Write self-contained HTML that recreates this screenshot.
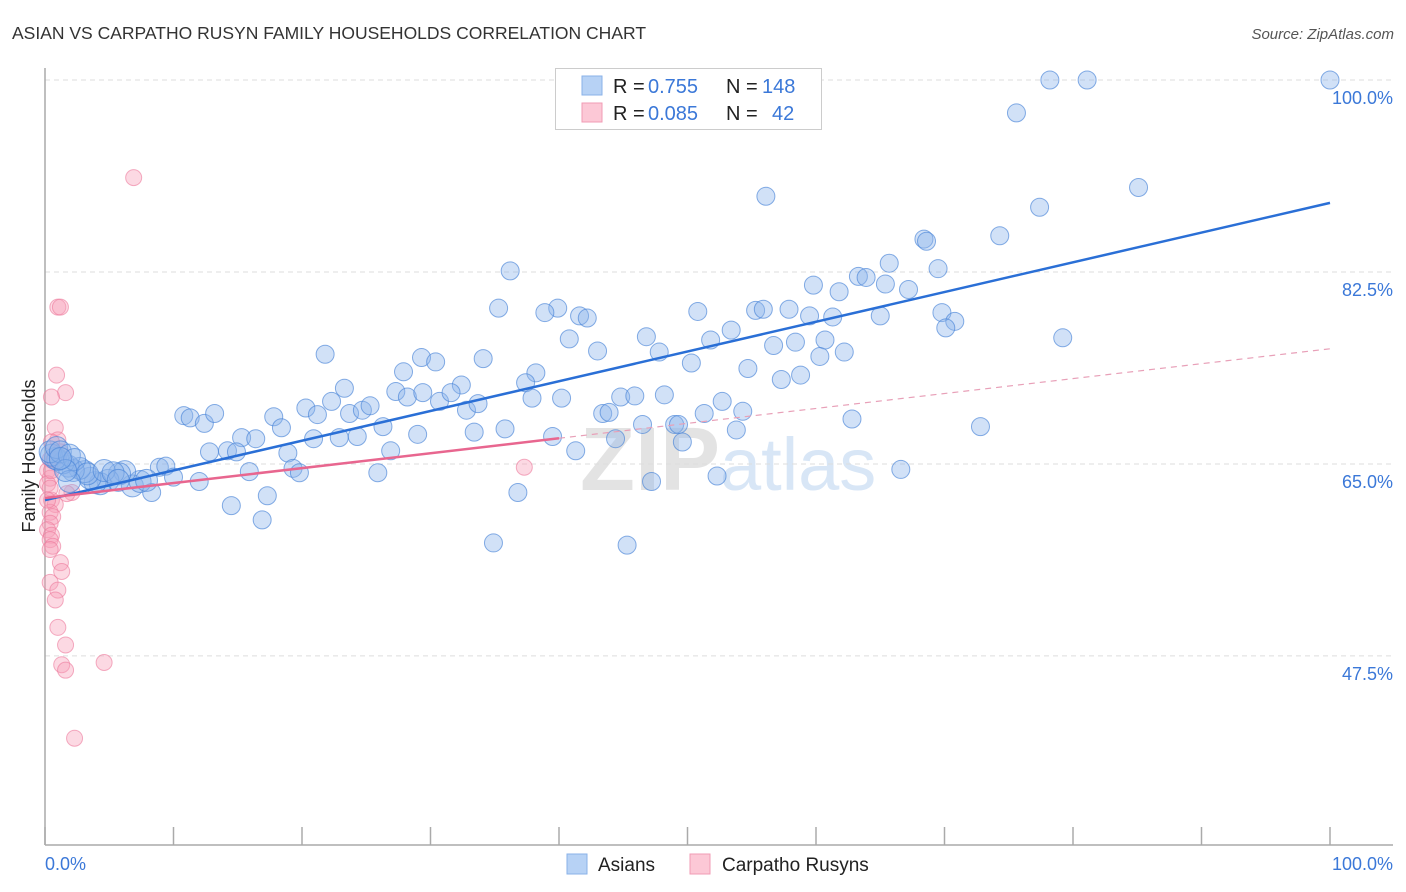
<!DOCTYPE html>
<html><head><meta charset="utf-8"><style>
body{margin:0;background:#fff;font-family:"Liberation Sans",sans-serif;}
svg{display:block}
</style></head><body>
<svg id="chart" width="1406" height="892" xmlns="http://www.w3.org/2000/svg">
<text x="12" y="39" font-size="17.5" fill="#333">ASIAN VS CARPATHO RUSYN FAMILY HOUSEHOLDS CORRELATION CHART</text>
<text x="1394" y="39" font-size="15" font-style="italic" fill="#555" text-anchor="end">Source: ZipAtlas.com</text>
<text x="720" y="490" font-size="90" font-weight="bold" fill="#ddd" text-anchor="end" opacity="0.8">ZIP</text>
<text x="720" y="490" font-size="74" fill="#cfe0f5" opacity="0.8">atlas</text>
<g id="grid"></g>
<g id="axes"></g>
<g id="pinkpts"></g>
<g id="bluepts"></g>
<g id="lines"></g>
<text transform="translate(35,456) rotate(-90)" font-size="18" fill="#222" text-anchor="middle">Family Households</text>
<g>
<rect x="555.5" y="68.5" width="266" height="61" fill="#fff" stroke="#ccc"/>
<rect x="582" y="76" width="20" height="19" fill="#b7d2f5" stroke="#8ab2e8"/>
<rect x="582" y="103" width="20" height="19" fill="#fcc8d6" stroke="#f19bb4"/>
<text x="613" y="93" font-size="20" fill="#222">R =</text>
<text x="648" y="93" font-size="20" fill="#3b78d8">0.755</text>
<text x="726" y="93" font-size="20" fill="#222">N =</text>
<text x="762" y="93" font-size="20" fill="#3b78d8">148</text>
<text x="613" y="120" font-size="20" fill="#222">R =</text>
<text x="648" y="120" font-size="20" fill="#3b78d8">0.085</text>
<text x="726" y="120" font-size="20" fill="#222">N =</text>
<text x="772" y="120" font-size="20" fill="#3b78d8">42</text>
</g>
<g>
<rect x="567" y="854" width="20" height="20" fill="#b7d2f5" stroke="#8ab2e8"/>
<text x="598" y="871" font-size="19" fill="#222">Asians</text>
<rect x="690" y="854" width="20" height="20" fill="#fcc8d6" stroke="#f19bb4"/>
<text x="722" y="871" font-size="19" fill="#222">Carpatho Rusyns</text>
</g>
</svg>
<script>
const xTicks=[0,10,20,30,40,50,60,70,80,90,100];
const yTicks=[47.5,65,82.5,100];
const yTickLabels=["47.5%","65.0%","82.5%","100.0%"];
const xLabels=["0.0%","100.0%"];
const blueX=[78.2,81.1,100,75.6,56.1,85.1,77.4,68.4,68.6,74.3,36.2,65.7,63.3,63.9,69.5,59.8,61.8,65.4,67.2,35.3,39.9,38.9,41.6,42.2,50.8,55.3,55.9,57.9,59.5,61.3,65.0,69.8,70.8,70.1,79.2,40.8,43.0,46.8,47.8,51.8,53.4,56.7,58.4,60.7,60.3,62.2,21.8,29.3,30.4,34.1,27.9,38.2,50.3,54.7,57.3,58.8,23.3,27.3,28.2,32.4,37.4,37.9,30.7,31.6,29.4,22.3,20.3,21.2,23.7,24.7,25.3,32.8,33.7,40.2,43.4,43.9,44.8,45.9,48.2,51.3,52.7,54.3,10.8,11.3,12.4,13.2,17.8,18.4,26.3,29.0,33.4,35.8,46.5,49.0,49.3,53.8,62.8,72.8,15.3,16.4,20.9,22.9,24.3,39.5,44.4,49.6,12.8,14.2,14.9,18.9,26.9,41.3,15.9,19.3,19.8,25.9,8.9,9.4,10.0,12.0,52.3,66.6,47.2,17.3,36.8,8.3,14.5,16.9,34.9,45.3,6.8,7.4,7.9,6.2,5.8,4.9,4.3,3.9,3.5,3.1,2.7,2.2,1.8,1.4,1.0,0.8,0.5,0.4,0.9,1.2,1.9,2.3,3.3,4.6,5.3,5.7,1.9,1.6,1.2];
const blueY=[100,100,100,97.0,89.4,90.2,88.4,85.5,85.3,85.8,82.6,83.3,82.1,82.0,82.8,81.3,80.7,81.4,80.9,79.2,79.2,78.8,78.5,78.3,78.9,79.0,79.1,79.1,78.5,78.4,78.5,78.8,78.0,77.4,76.5,76.4,75.3,76.6,75.2,76.3,77.2,75.8,76.1,76.3,74.8,75.2,75.0,74.7,74.3,74.6,73.4,73.3,74.2,73.7,72.7,73.1,71.9,71.6,71.1,72.2,72.4,71.0,70.7,71.5,71.5,70.7,70.1,69.5,69.6,69.9,70.3,69.9,70.5,71.0,69.6,69.7,71.1,71.2,71.3,69.6,70.7,69.8,69.4,69.2,68.7,69.6,69.3,68.3,68.4,67.7,67.9,68.2,68.6,68.6,68.6,68.1,69.1,68.4,67.4,67.3,67.3,67.4,67.5,67.5,67.3,67.0,66.1,66.2,66.1,66.0,66.2,66.2,64.3,64.6,64.2,64.2,64.7,64.8,63.8,63.4,63.9,64.5,63.4,62.1,62.4,62.4,61.2,59.9,57.8,57.6,63.0,63.4,63.5,64.3,64.1,63.5,63.2,63.3,63.7,64.3,64.6,64.4,64.8,65.1,65.4,65.5,65.8,66.1,66.5,66.1,65.8,65.4,64.1,64.4,64.2,63.5,63.4,64.4,65.5];
const pinkX=[6.9,1.0,1.2,0.9,1.6,0.5,0.8,1.0,0.5,1.2,0.4,0.2,0.4,2.1,1.7,0.2,0.5,0.8,0.4,0.6,0.4,0.2,0.5,0.4,0.6,0.4,1.2,1.3,0.4,1.0,0.8,1.0,1.6,1.3,1.6,4.6,2.3,37.3,0.4,0.2,0.7,0.5];
const pinkY=[91.1,79.3,79.3,73.1,71.5,71.1,68.3,67.2,67.0,66.1,65.4,64.4,63.7,62.4,62.3,63.2,61.7,61.3,60.6,60.2,59.6,59.0,58.5,58.1,57.5,57.2,56.0,55.2,54.2,53.5,52.6,50.1,48.5,46.7,46.2,46.9,40.0,64.7,62.8,61.7,65.4,64.4];
const blueFit=[61.7,88.8];
const pinkFit=[61.9,75.5];
const pinkSolidEnd=40;

const X=v=>45+v*12.85;
const Y=v=>80+(100-v)*10.97;
const NS="http://www.w3.org/2000/svg";
function mk(tag,attrs,parent){const e=document.createElementNS(NS,tag);for(const k in attrs)e.setAttribute(k,attrs[k]);parent.appendChild(e);return e;}
const grid=document.getElementById('grid'),axes=document.getElementById('axes');
yTicks.forEach((t,i)=>{
 const l=mk('line',{x1:45,x2:1393,y1:Y(t),y2:Y(t),stroke:'#ddd','stroke-dasharray':'5,4'},grid);
 
 
 const tx=mk('text',{x:1393,y:Y(t)+24,'font-size':18,fill:'#3b78d8','text-anchor':'end'},axes);
 tx.textContent=yTickLabels[i];
 
 
});
const ya=mk('line',{x1:45,x2:45,y1:68,y2:845,stroke:'#aaa','stroke-width':1.5},axes);


const xa=mk('line',{x1:45,x2:1393,y1:845,y2:845,stroke:'#aaa','stroke-width':1.5},axes);


xTicks.forEach(t=>{
 const l=mk('line',{x1:X(t),x2:X(t),y1:827,y2:845,stroke:'#aaa','stroke-width':1.5},axes);
 
 
});
[[0,'start',45],[100,'end',1393]].forEach((d,i)=>{
 const tx=mk('text',{x:d[2],y:870,'font-size':18,fill:'#3b78d8','text-anchor':d[1]},axes);
 tx.textContent=xLabels[i];
 
 
});
const pg=document.getElementById('pinkpts');
pinkX.forEach((x,i)=>{
 const c=mk('circle',{cx:X(x),cy:Y(pinkY[i]),r:8,fill:'rgba(247,160,185,0.4)',stroke:'rgba(236,120,155,0.6)','stroke-width':1},pg);
 
 
});
const bg=document.getElementById('bluepts');
blueX.forEach((x,i)=>{
 const r=x<8?11:9;
 const c=mk('circle',{cx:X(x),cy:Y(blueY[i]),r:r,fill:'rgba(140,180,235,0.4)',stroke:'rgba(70,130,215,0.65)','stroke-width':1},bg);
 
 
});
const lg=document.getElementById('lines');
const pAt=v=>pinkFit[0]+(pinkFit[1]-pinkFit[0])*v/100;
const bl=mk('line',{x1:X(0),y1:Y(blueFit[0]),x2:X(100),y2:Y(blueFit[1]),stroke:'#2a6fd6','stroke-width':2.5},lg);


const ps=mk('line',{x1:X(0),y1:Y(pAt(0)),x2:X(pinkSolidEnd),y2:Y(pAt(pinkSolidEnd)),stroke:'#e8668f','stroke-width':2.5},lg);


const pd=mk('line',{x1:X(pinkSolidEnd),y1:Y(pAt(pinkSolidEnd)),x2:X(100),y2:Y(pAt(100)),stroke:'#e8a0b8','stroke-width':1.2,'stroke-dasharray':'6,5'},lg);


</script>
</body></html>
